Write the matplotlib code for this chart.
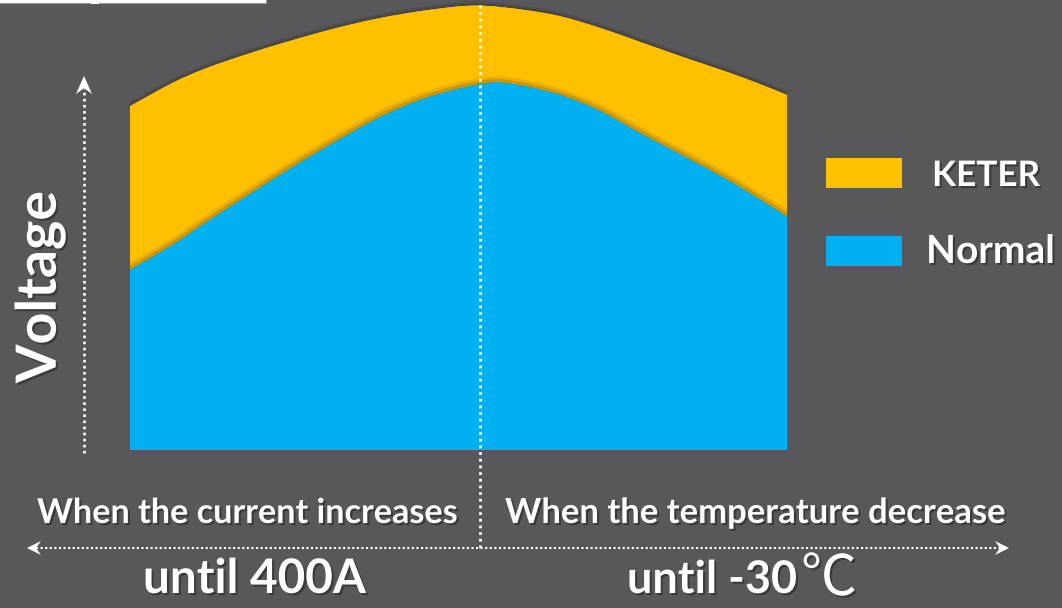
import matplotlib
matplotlib.use("Agg")
import matplotlib.pyplot as plt
import matplotlib.patheffects as pe
from matplotlib.patches import Rectangle, Polygon, PathPatch
from matplotlib.path import Path

# ---------------- data ----------------
x_pos = [0, 6.5, 11.7, 18.3, 24.8, 31.5, 38.1, 44.6, 51.3, 56.6, 64.5, 71.1, 77.6, 84.2, 90.9, 95.9, 100]
keter = [76.4, 81.6, 84.9, 88.2, 91.1, 93.8, 96.0, 97.6, 98.7, 98.4, 96.7, 94.0, 90.7, 87.3, 84.0, 81.3, 78.9]
normal = [40.0, 45.6, 50.7, 56.9, 62.9, 68.7, 74.0, 78.0, 80.7, 81.6, 79.3, 75.6, 70.4, 65.3, 60.0, 55.6, 51.8]
series_names = ["KETER", "Normal"]
series_colors = ["#FFC000", "#00B0F0"]
y_label = "Voltage"
left_caption = "When the current increases"
right_caption = "When the temperature decrease"
left_limit = "until 400A"
right_limit_num = "until -30"
right_limit_unit = "\u2103"

# ---------------- figure ----------------
W, H = 1062, 608
BG = "#58585b"
fig = plt.figure(figsize=(W / 100, H / 100), dpi=100, facecolor=BG)

def fx(px):
    return px / W

def fy(py):
    return 1 - py / H

ax = fig.add_axes([fx(130), fy(450), fx(787) - fx(130), fy(0) - fy(450)])
ax.set_xlim(0, 100)
ax.set_ylim(0, 100)
ax.axis("off")
ax.patch.set_alpha(0)


def smooth_area_path(xs, ys):
    """Closed area under a smooth (Catmull-Rom style Bezier) curve through the points."""
    verts = [(xs[0], 0), (xs[0], ys[0])]
    codes = [Path.MOVETO, Path.LINETO]
    n = len(xs)
    for i in range(n - 1):
        p0 = (xs[i - 1], ys[i - 1]) if i > 0 else (xs[i], ys[i])
        p1 = (xs[i], ys[i])
        p2 = (xs[i + 1], ys[i + 1])
        p3 = (xs[i + 2], ys[i + 2]) if i + 2 < n else p2
        c1 = (p1[0] + (p2[0] - p0[0]) / 6, p1[1] + (p2[1] - p0[1]) / 6)
        c2 = (p2[0] - (p3[0] - p1[0]) / 6, p2[1] - (p3[1] - p1[1]) / 6)
        verts += [c1, c2, p2]
        codes += [Path.CURVE4] * 3
    verts += [(xs[-1], 0), (xs[0], 0)]
    codes += [Path.LINETO, Path.CLOSEPOLY]
    return Path(verts, codes)


shadow_y = [pe.SimplePatchShadow(offset=(2, -2), shadow_rgbFace="black", alpha=0.35),
            pe.Stroke(linewidth=6, foreground=(0, 0, 0, 0.10)),
            pe.Stroke(linewidth=3, foreground=(0, 0, 0, 0.12)),
            pe.Normal()]
ax.add_patch(PathPatch(smooth_area_path(x_pos, keter), transform=ax.transData,
                       facecolor=series_colors[0], edgecolor="none", lw=0, zorder=2,
                       path_effects=shadow_y))
shadow_b = [pe.Stroke(linewidth=9, foreground=(0.55, 0.40, 0.0, 0.18)),
            pe.Stroke(linewidth=5, foreground=(0.50, 0.36, 0.0, 0.28)),
            pe.Normal()]
ax.add_patch(PathPatch(smooth_area_path(x_pos, normal), transform=ax.transData,
                       facecolor=series_colors[1], edgecolor="none", lw=0, zorder=3,
                       path_effects=shadow_b))

# overlay axes in pixel coords for decorations
ov = fig.add_axes([0, 0, 1, 1])
ov.set_xlim(0, W)
ov.set_ylim(H, 0)
ov.axis("off")
ov.patch.set_alpha(0)

# top-left white box (cut off)
ov.add_patch(Rectangle((-5, -20), 271, 22.5, facecolor="white", edgecolor="#9a9a9a", lw=0.8))
ov.add_patch(Rectangle((91, 0), 8, 4, facecolor="white", edgecolor="none"))

# divider
ov.plot([480, 480], [5, 548], color="white", lw=2.0, linestyle=(0, (1, 1.4)), zorder=5)
# y axis dotted arrow
ov.plot([84, 84], [453, 88], color="white", lw=1.9, linestyle=(0, (1, 1.3)), zorder=5)
ov.add_patch(Polygon([(84, 76), (92, 94), (84, 88), (76, 94)], closed=True,
                     facecolor="white", edgecolor="none", zorder=5))
# horizontal dotted double arrow
ov.plot([36, 1000], [548, 548], color="white", lw=1.5, linestyle=(0, (1, 1.2)), zorder=5)
ov.add_patch(Polygon([(27, 548), (41, 541), (36, 548), (41, 555)], closed=True,
                     facecolor="white", edgecolor="none", zorder=5))
ov.add_patch(Polygon([(1009, 548), (995, 541), (1000, 548), (995, 555)], closed=True,
                     facecolor="white", edgecolor="none", zorder=5))

# legend swatches
ov.add_patch(Rectangle((826, 158), 76, 30, facecolor=series_colors[0], edgecolor="none"))
ov.add_patch(Rectangle((826, 236), 76, 30, facecolor=series_colors[1], edgecolor="none"))

txt_fx = [pe.withSimplePatchShadow(offset=(1.5, -1.5), shadow_rgbFace="#1e1e1e", alpha=0.5)]
FONT = ["Lato", "DejaVu Sans"]

renderer = fig.canvas.get_renderer()

def fit_text(x, y, s, target_w, size, ha="left", va="baseline", rotation=0,
             family=FONT, weight="bold"):
    t = ov.text(x, y, s, color="white", fontsize=size, fontweight=weight,
                family=family, ha=ha, va=va, rotation=rotation, path_effects=txt_fx, zorder=6)
    bb = t.get_window_extent(renderer=renderer)
    cur = bb.height if rotation == 90 else bb.width
    t.set_fontsize(size * target_w / cur)
    return t

fit_text(932, 186, series_names[0], 108, 24)
fit_text(926, 263, series_names[1], 129, 24)
fit_text(37, 523, left_caption, 421, 18)
fit_text(505, 523, right_caption, 500, 18)
fit_text(143, 593, left_limit, 223, 26)
fit_text(627, 593, right_limit_num, 170, 26)
fit_text(801, 595, right_limit_unit, 56, 30,
         family=["Noto Sans CJK SC", "DejaVu Sans"], weight="normal")
fit_text(40, 287, y_label, 192, 40, ha="center", va="center", rotation=90)

fig.savefig("out.png", dpi=100, facecolor=BG)
